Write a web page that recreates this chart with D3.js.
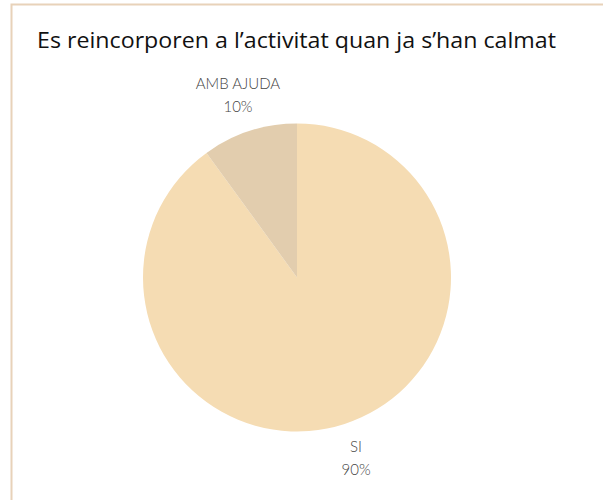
<!DOCTYPE html>
<html>
<head>
<meta charset="utf-8">
<script src="https://cdn.jsdelivr.net/npm/d3@7/dist/d3.min.js"></script>
<style>
  html, body { margin: 0; padding: 0; background: #fff; }
  svg { display: block; }
</style>
</head>
<body>
<script>
// Chart data
const title = "Es reincorporen a l\u2019activitat quan ja s\u2019han calmat";
const categories = ["SI", "AMB AJUDA"];
const values = [90, 10];
const colors = ["#f5dcb3", "#e2cdae"];

const width = 603, height = 500;
const cx = 297, cy = 277.5, radius = 154, labelRadius = 191;

const svg = d3.select("body").append("svg")
  .attr("width", width)
  .attr("height", height);

// Card frame
svg.append("rect")
  .attr("x", 11.5).attr("y", 4.5)
  .attr("width", width + 20).attr("height", height + 20)
  .attr("fill", "#fff")
  .attr("stroke", "#e8d2b9")
  .attr("stroke-width", 2);

svg.append("text")
  .attr("x", 37).attr("y", 48)
  .attr("font-family", "'Open Sans', Lato, sans-serif")
  .attr("font-size", 21)
  .attr("fill", "#111")
  .attr("textLength", 519)
  .attr("lengthAdjust", "spacingAndGlyphs")
  .text(title);

const data = categories.map((c, i) => ({ name: c, value: values[i] }));

const pie = d3.pie().sort(null).value(d => d.value);
const arcs = pie(data);
const arc = d3.arc().innerRadius(0).outerRadius(radius);

const g = svg.append("g").attr("transform", `translate(${cx},${cy})`);

g.selectAll("path")
  .data(arcs)
  .join("path")
  .attr("d", arc)
  .attr("fill", (d, i) => colors[i]);

const total = d3.sum(values);
const labels = g.selectAll("g.lbl")
  .data(arcs)
  .join("g")
  .attr("class", "lbl")
  .attr("transform", d => {
    const a = (d.startAngle + d.endAngle) / 2;
    return `translate(${labelRadius * Math.sin(a)},${-labelRadius * Math.cos(a)})`;
  });

labels.append("text")
  .attr("text-anchor", "middle")
  .attr("y", -7)
  .attr("font-family", "Lato, sans-serif")
  .attr("font-weight", 300)
  .attr("font-size", 15)
  .attr("fill", "#444")
  .text(d => d.data.name);

labels.append("text")
  .attr("text-anchor", "middle")
  .attr("y", 16)
  .attr("font-family", "Lato, sans-serif")
  .attr("font-weight", 300)
  .attr("font-size", 15)
  .attr("fill", "#444")
  .text(d => Math.round(d.data.value / total * 100) + "%");
</script>
</body>
</html>
